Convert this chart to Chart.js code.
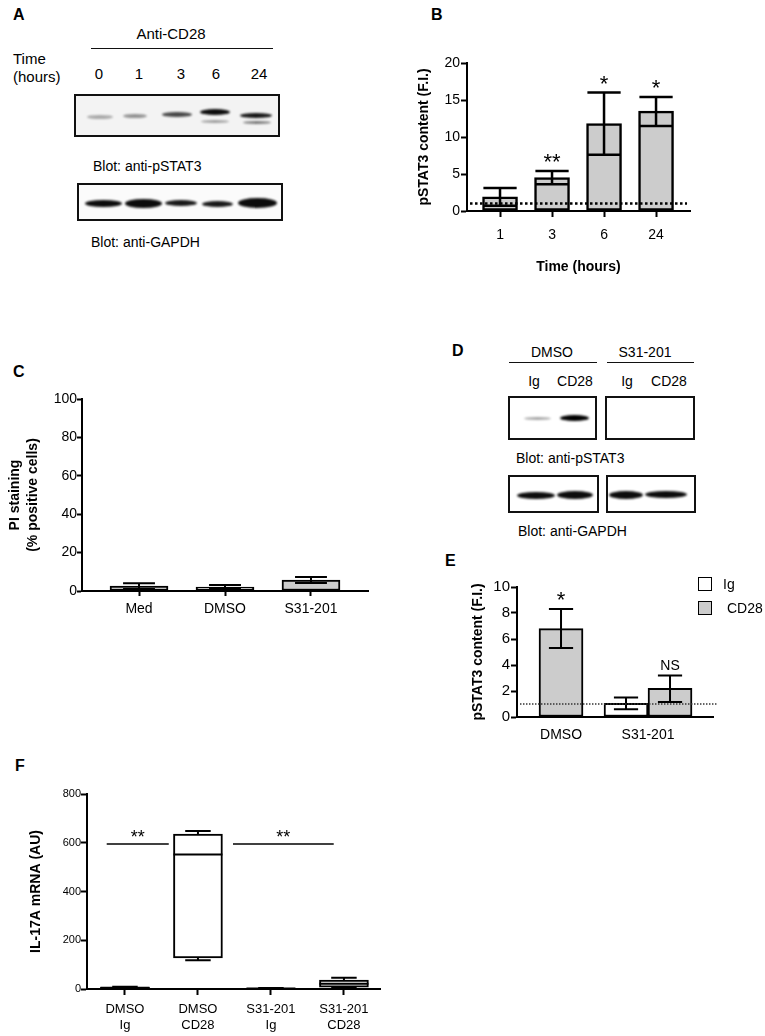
<!DOCTYPE html>
<html>
<head>
<meta charset="utf-8">
<script src="https://cdn.jsdelivr.net/npm/chart.js@4.4.1/dist/chart.umd.min.js"></script>
<style>
    body { margin: 0; background: #fff; }
    #fig { position: relative; width: 765px; height: 1036px; overflow: hidden; font-family: 'Liberation Sans', Arial, sans-serif; color: #000; }
    .t { position: absolute; white-space: nowrap; line-height: 1; transform: translateY(-50%); }
    .t.c { transform: translate(-50%, -50%); }
    .t.b { font-weight: bold; }
    .hl { position: absolute; height: 0; border-top: 1.5px solid #111; }
    .blot { position: absolute; border: 2px solid #111; box-sizing: border-box; background: #fff; overflow: hidden; }
    .band { position: absolute; background: #000; border-radius: 50%; filter: blur(1.1px); }
    .sw { position: absolute; width: 14px; height: 14px; box-sizing: border-box; border: 1.5px solid #000; }
    canvas { position: absolute; }
</style>
</head>
<body>
<div id="fig"></div>
<script>
// B: pSTAT3 content over time
const bLabels = ['1', '3', '6', '24'];
const bMean = [1.9, 4.5, 11.8, 13.5];
const bLow = [0.7, 3.6, 7.6, 11.5];
const bHigh = [3.1, 5.4, 16.0, 15.4];
const bStars = ['', '**', '*', '*'];

// C: PI staining
const cLabels = ['Med', 'DMSO', 'S31-201'];
const cMean = [2.6, 2.1, 5.7];
const cLow = [1.1, 1.1, 4.2];
const cHigh = [4.1, 3.1, 7.3];

// E: pSTAT3 content, Ig vs CD28
const eLabels = ['DMSO', 'S31-201'];
const eSeries = ['Ig', 'CD28'];
const eIg = [null, 1.05];
const eIgLow = [null, 0.6];
const eIgHigh = [null, 1.5];
const eCD28 = [6.8, 2.2];
const eCD28Low = [5.3, 1.15];
const eCD28High = [8.3, 3.2];
const eMarks = ['*', 'NS'];

// F: IL-17A mRNA box plot
const fLabels = [['DMSO', 'Ig'], ['DMSO', 'CD28'], ['S31-201', 'Ig'], ['S31-201', 'CD28']];
const fMin = [2, 118, 1, 5];
const fQ1 = [3, 128, 1.5, 8];
const fMed = [5, 552, 2, 22];
const fQ3 = [7, 636, 3, 37];
const fMax = [9, 648, 4, 46];
const fSigFrom = [0.75, 2.48];
const fSigTo = [1.6, 3.86];
const fSigAt = [595, 595];
const fSigText = ['**', '**'];

// blot lanes
const aLanes = ['0', '1', '3', '6', '24'];
const dLanes = ['Ig', 'CD28', 'Ig', 'CD28'];

const GRAY = '#cccccc';
const fig = document.getElementById('fig');
Chart.defaults.font.family = "'Liberation Sans', Arial, sans-serif";
Chart.defaults.color = '#000';

function text(str, x, y, o = {}) {
    const d = document.createElement('div');
    d.className = 't' + (o.center ? ' c' : '') + (o.bold ? ' b' : '');
    d.style.left = x + 'px';
    d.style.top = y + 'px';
    d.style.fontSize = (o.size || 14) + 'px';
    d.textContent = str;
    fig.appendChild(d);
}

function hline(x1, x2, y) {
    const d = document.createElement('div');
    d.className = 'hl';
    d.style.left = x1 + 'px';
    d.style.top = y + 'px';
    d.style.width = (x2 - x1) + 'px';
    fig.appendChild(d);
}

// bands: [cx, cy, w, h, opacity] in page coords
function blot(x1, y1, x2, y2, bands, bg) {
    const d = document.createElement('div');
    d.className = 'blot';
    Object.assign(d.style, { left: x1 + 'px', top: y1 + 'px', width: (x2 - x1) + 'px', height: (y2 - y1) + 'px' });
    if (bg) d.style.background = bg;
    bands.forEach(([cx, cy, w, h, op]) => {
        const b = document.createElement('div');
        b.className = 'band';
        Object.assign(b.style, {
            left: (cx - w / 2 - x1 - 2) + 'px', top: (cy - h / 2 - y1 - 2) + 'px',
            width: w + 'px', height: h + 'px', opacity: op
        });
        d.appendChild(b);
    });
    fig.appendChild(d);
}

function addCanvas(left, top, w, h) {
    const c = document.createElement('canvas');
    c.width = w; c.height = h;
    Object.assign(c.style, { left: left + 'px', top: top + 'px', width: w + 'px', height: h + 'px' });
    fig.appendChild(c);
    return c;
}

function yAxis(o) {
    return {
        type: 'linear', position: 'left', min: o.min, max: o.max,
        ticks: { stepSize: o.step, font: { size: o.tick }, padding: o.tickPad, color: '#000' },
        grid: { drawOnChartArea: false, drawTicks: true, tickLength: o.tickLen, tickWidth: 2, tickColor: '#000', color: '#000' },
        border: { display: true, color: '#000', width: 2 },
        title: { display: true, text: o.title, color: '#000', font: { size: 14, weight: 'bold', lineHeight: 1.3 }, padding: { top: o.titlePad, bottom: 0 } },
        afterFit: (s) => { s.width = o.width; }
    };
}

function xAxis(o) {
    return {
        type: 'linear', position: 'bottom', min: o.min, max: o.max, offset: false,
        afterBuildTicks: (s) => { s.ticks = o.labels.map((_, i) => ({ value: i + 1 })); },
        ticks: { callback: (v) => o.labels[v - 1], font: { size: o.tick, lineHeight: 1.2 }, padding: o.tickPad, autoSkip: false, maxRotation: 0, color: '#000' },
        grid: { offset: false, drawOnChartArea: false, drawTicks: o.tickLen > 0, tickLength: o.tickLen || 1, tickWidth: 2, tickColor: '#000', color: '#000' },
        border: { display: true, color: '#000', width: 2 },
        title: o.title
            ? { display: true, text: o.title, color: '#000', font: { size: 14, weight: 'bold' }, padding: { top: 0, bottom: o.titlePad } }
            : { display: false },
        afterFit: (s) => { s.height = o.height; }
    };
}

// error bars, stars, reference lines, box whiskers, comparison lines
const marks = {
    id: 'marks',
    afterDatasetsDraw(chart, args, o) {
        const { ctx } = chart;
        const xs = chart.scales.x, ys = chart.scales.y;
        ctx.save();
        ctx.strokeStyle = '#000';
        ctx.fillStyle = '#000';
        (o.boxes || []).forEach((b) => {
            chart.getDatasetMeta(b.dataset).data.forEach((el, i) => {
                const half = el.width / 2, cap = el.width * 0.26;
                ctx.lineWidth = 2;
                ctx.beginPath();
                const ym = ys.getPixelForValue(b.med[i]);
                ctx.moveTo(el.x - half, ym); ctx.lineTo(el.x + half, ym);
                [[b.q3[i], b.max[i]], [b.q1[i], b.min[i]]].forEach(([from, to]) => {
                    const y1 = ys.getPixelForValue(from), y2 = ys.getPixelForValue(to);
                    ctx.moveTo(el.x, y1); ctx.lineTo(el.x, y2);
                    ctx.moveTo(el.x - cap, y2); ctx.lineTo(el.x + cap, y2);
                });
                ctx.stroke();
            });
        });
        (o.errors || []).forEach((e) => {
            chart.getDatasetMeta(e.dataset).data.forEach((el, i) => {
                if (e.low[i] == null) return;
                const cap = el.width * e.cap / 2;
                const yl = ys.getPixelForValue(e.low[i]), yh = ys.getPixelForValue(e.high[i]);
                ctx.lineWidth = e.width;
                ctx.beginPath();
                ctx.moveTo(el.x, yl); ctx.lineTo(el.x, yh);
                ctx.moveTo(el.x - cap, yl); ctx.lineTo(el.x + cap, yl);
                ctx.moveTo(el.x - cap, yh); ctx.lineTo(el.x + cap, yh);
                ctx.stroke();
                const m = e.marks && e.marks[i];
                if (!m) return;
                const star = m.includes('*');
                ctx.font = (star ? e.starSize : 14) + "px 'Liberation Sans', Arial, sans-serif";
                ctx.textAlign = 'center';
                ctx.textBaseline = 'alphabetic';
                ctx.fillText(m, el.x, yh - (star ? 2 : 5));
            });
        });
        if (o.ref) {
            const r = o.ref, y = ys.getPixelForValue(r.value);
            ctx.lineWidth = r.width;
            ctx.strokeStyle = r.color;
            ctx.setLineDash(r.dash);
            ctx.beginPath();
            ctx.moveTo(xs.getPixelForValue(r.from), y);
            ctx.lineTo(xs.getPixelForValue(r.to), y);
            ctx.stroke();
            ctx.setLineDash([]);
        }
        (o.sig || []).forEach((s) => {
            const y = ys.getPixelForValue(s.at);
            const x1 = xs.getPixelForValue(s.from), x2 = xs.getPixelForValue(s.to);
            ctx.strokeStyle = '#000';
            ctx.lineWidth = 1.5;
            ctx.beginPath();
            ctx.moveTo(x1, y); ctx.lineTo(x2, y);
            ctx.stroke();
            ctx.font = "18px 'Liberation Sans', Arial, sans-serif";
            ctx.textAlign = 'center';
            ctx.fillText(s.text, (x1 + x2) / 2, y - 1);
        });
        ctx.restore();
    }
};

function makeChart(canvas, datasets, scales, padding, markOpts) {
    return new Chart(canvas.getContext('2d'), {
        type: 'bar',
        data: { datasets },
        options: {
            responsive: false, animation: false,
            layout: { padding },
            scales,
            plugins: { legend: { display: false }, tooltip: { enabled: false }, marks: markOpts }
        },
        plugins: [marks]
    });
}

const pts = (arr) => arr.map((v, i) => ({ x: i + 1, y: v }));

// ---------- panel letters ----------
[['A', 13, 15], ['B', 431, 15], ['C', 13, 372], ['D', 452, 351], ['E', 445, 561], ['F', 15, 766]]
    .forEach(([s, x, y]) => text(s, x, y, { bold: true, size: 16 }));

// ---------- A: blots ----------
text('Anti-CD28', 171, 33, { center: true, size: 15 });
hline(91, 273, 48);
text('Time', 13, 58, { size: 15 });
text('(hours)', 13, 76, { size: 15 });
[99, 139, 181, 216, 259].forEach((x, i) => text(aLanes[i], x, 73, { center: true, size: 15 }));
blot(74, 94, 280, 137, [
    [100, 117, 26, 4, 0.3], [135, 116, 24, 4, 0.4], [177, 114, 30, 5, 0.7],
    [215, 112, 30, 6, 0.95], [215, 121, 28, 3, 0.35],
    [256, 115, 32, 5, 0.9], [257, 122, 28, 3, 0.5]
], '#f3f3f3');
text('Blot: anti-pSTAT3', 93, 166, { size: 14 });
blot(77, 183, 283, 221, [
    [103, 203, 37, 7, 0.95], [143, 203, 37, 9, 0.95], [181, 203, 32, 6, 0.9],
    [217, 204, 31, 6, 0.9], [257, 203, 39, 10, 0.95]
], '#fbfbfb');
text('Blot: anti-GAPDH', 91, 242, { size: 14 });

// ---------- D: blots ----------
text('DMSO', 552, 352, { center: true, size: 14 });
text('S31-201', 645, 352, { center: true, size: 14 });
hline(509, 597, 362);
hline(607, 694, 362);
[534, 575, 627, 669].forEach((x, i) => text(dLanes[i], x, 381, { center: true, size: 14 }));
blot(508, 396, 597, 440, [[537, 418, 27, 3, 0.35], [574, 418, 29, 6, 1]]);
blot(605, 396, 695, 440, []);
text('Blot: anti-pSTAT3', 516, 458, { size: 14 });
blot(508, 475, 599, 513, [[536, 495, 38, 7, 0.95], [575, 495, 36, 8, 0.95]]);
blot(606, 475, 696, 513, [[626, 495, 34, 8, 0.95], [666, 494, 42, 7, 0.95]]);
text('Blot: anti-GAPDH', 518, 531, { size: 14 });

// ---------- B ----------
makeChart(addCanvas(380, 40, 315, 250), [{
    data: pts(bMean), backgroundColor: GRAY, borderColor: '#000', borderWidth: 2.5,
    borderSkipped: false, barThickness: 35
}], {
    x: xAxis({ min: 0.365, max: 4.653, labels: bLabels, height: 79, tick: 14, tickPad: 10, tickLen: 6, title: 'Time (hours)', titlePad: 14.6 }),
    y: yAxis({ min: 0, max: 20, step: 5, width: 87, tick: 14, tickPad: 1, tickLen: 6, title: 'pSTAT3 content (F.I.)', titlePad: 34.6 })
}, { left: 0, right: 5, top: 23, bottom: 0 }, {
    errors: [{ dataset: 0, low: bLow, high: bHigh, cap: 0.95, width: 2.5, marks: bStars, starSize: 22 }],
    ref: { value: 1, from: 0.423, to: 4.596, width: 2.5, dash: [2.5, 2.5], color: '#000' }
});

// ---------- C ----------
makeChart(addCanvas(0, 380, 375, 250), [{
    data: pts(cMean), backgroundColor: ['#fff', '#fff', GRAY], borderColor: '#000', borderWidth: 2,
    borderSkipped: false, barThickness: 58
}], {
    x: xAxis({ min: 0.337, max: 3.663, labels: cLabels, height: 39, tick: 14, tickPad: 5, tickLen: 5 }),
    y: yAxis({ min: 0, max: 100, step: 20, width: 82, tick: 14, tickPad: 0, tickLen: 5, title: ['PI staining', '(% positive cells)'], titlePad: 5.9 })
}, { left: 0, right: 7, top: 19, bottom: 0 }, {
    errors: [{ dataset: 0, low: cLow, high: cHigh, cap: 0.55, width: 2 }]
});

// ---------- E ----------
makeChart(addCanvas(440, 570, 280, 180), [
    { label: eSeries[0], data: pts(eIg), backgroundColor: '#fff', borderColor: '#000', borderWidth: 2, borderSkipped: false, barThickness: 44, skipNull: true },
    { label: eSeries[1], data: pts(eCD28), backgroundColor: GRAY, borderColor: '#000', borderWidth: 2, borderSkipped: false, barThickness: 44, skipNull: true }
], {
    x: xAxis({ min: 0.494, max: 2.747, labels: eLabels, height: 33, tick: 14, tickPad: 9.4, tickLen: 0 }),
    y: yAxis({ min: 0, max: 10, step: 2, width: 77, tick: 15, tickPad: 1, tickLen: 6, title: 'pSTAT3 content (F.I.)', titlePad: 28.6 })
}, { left: 0, right: 7, top: 17, bottom: 0 }, {
    errors: [
        { dataset: 0, low: eIgLow, high: eIgHigh, cap: 0.55, width: 2 },
        { dataset: 1, low: eCD28Low, high: eCD28High, cap: 0.55, width: 2, marks: eMarks, starSize: 22 }
    ],
    ref: { value: 1, from: 0.528, to: 2.804, width: 1.5, dash: [1.5, 1.5], color: '#333' }
});
// legend for E
[[GRAY === '' ? '#fff' : '#fff', 584], [GRAY, 608]].forEach(([fill, cy], i) => {
    const s = document.createElement('div');
    s.className = 'sw';
    Object.assign(s.style, { left: '698px', top: (cy - 7) + 'px', background: fill });
    fig.appendChild(s);
    text(eSeries[i], i ? 727 : 723, cy, { size: 14 });
});

// ---------- F ----------
makeChart(addCanvas(0, 775, 385, 261), [{
    data: fQ1.map((q, i) => ({ x: i + 1, y: [q, fQ3[i]] })),
    backgroundColor: '#fff', borderColor: '#000', borderWidth: 2, borderSkipped: false, barThickness: 49
}], {
    x: xAxis({ min: 0.48, max: 4.494, labels: fLabels, height: 47, tick: 13, tickPad: 7, tickLen: 6 }),
    y: yAxis({ min: 0, max: 800, step: 200, width: 87, tick: 11, tickPad: 0, tickLen: 6, title: 'IL-17A mRNA (AU)', titlePad: 26.6 })
}, { left: 0, right: 5, top: 19, bottom: 0 }, {
    boxes: [{ dataset: 0, min: fMin, q1: fQ1, med: fMed, q3: fQ3, max: fMax }],
    sig: fSigText.map((t, i) => ({ from: fSigFrom[i], to: fSigTo[i], at: fSigAt[i], text: t }))
});
</script>
</body>
</html>
